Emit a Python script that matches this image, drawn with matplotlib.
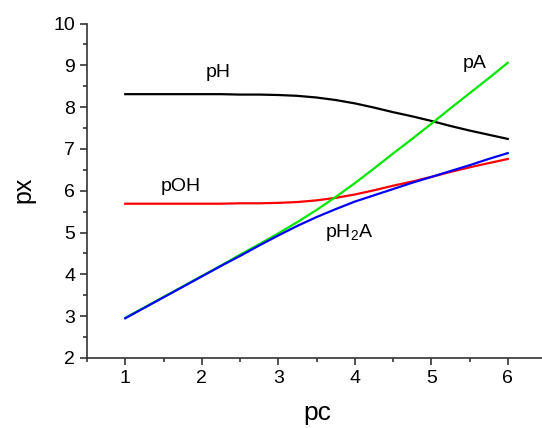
import numpy as np
import matplotlib.pyplot as plt
from matplotlib.ticker import MultipleLocator

plt.rcParams['font.family'] = ['Liberation Sans', 'DejaVu Sans']

# values
pc = [1.00, 1.25, 1.50, 1.75, 2.00, 2.25, 2.50, 2.75, 3.00, 3.25, 3.50,
      3.75, 4.00, 4.25, 4.50, 4.75, 5.00, 5.25, 5.50, 5.75, 6.00]
pH = [8.31, 8.31, 8.31, 8.31, 8.31, 8.31, 8.30, 8.30, 8.29, 8.27, 8.23,
      8.17, 8.09, 7.99, 7.88, 7.78, 7.67, 7.55, 7.44, 7.34, 7.24]
pOH = [5.69, 5.69, 5.69, 5.69, 5.69, 5.69, 5.70, 5.70, 5.71, 5.73, 5.77,
       5.83, 5.91, 6.01, 6.12, 6.22, 6.33, 6.45, 6.56, 6.66, 6.76]
pH2A = [2.95, 3.20, 3.45, 3.70, 3.95, 4.20, 4.44, 4.69, 4.93, 5.16, 5.37,
        5.56, 5.74, 5.89, 6.04, 6.19, 6.33, 6.47, 6.61, 6.76, 6.90]
pA = [2.96, 3.21, 3.46, 3.71, 3.96, 4.21, 4.47, 4.72, 4.98, 5.25, 5.54,
      5.85, 6.18, 6.53, 6.89, 7.24, 7.60, 7.97, 8.33, 8.69, 9.06]

fig = plt.figure(figsize=(5.42, 4.28), dpi=100)
ax = fig.add_axes([87/542, 70/428, 459/542, 334.5/428])

ax.plot(pc, pH, color='black', lw=1.6)
ax.plot(pc, pOH, color='#ff0000', lw=1.6)
ax.plot(pc, pA, color='#00e600', lw=1.6)
ax.plot(pc, pH2A, color='#0000ff', lw=1.6)

ax.text(2.21, 8.83, 'pH', fontsize=14, ha='center', va='center')
ax.text(1.73, 6.09, 'pOH', fontsize=14, ha='center', va='center')
ax.text(5.57, 9.04, 'pA', fontsize=14, ha='center', va='center')
ax.text(3.61, 4.90, 'pH$_\\mathregular{2}$A', fontsize=14, ha='left', va='baseline')

ax.set_xlim(0.5, 6.5)
ax.set_ylim(2, 10)
ax.xaxis.set_major_locator(MultipleLocator(1))
ax.xaxis.set_minor_locator(MultipleLocator(0.5))
ax.yaxis.set_major_locator(MultipleLocator(1))
ax.yaxis.set_minor_locator(MultipleLocator(0.5))
ax.set_xticks([1, 2, 3, 4, 5, 6])

for s in ['top', 'right']:
    ax.spines[s].set_visible(False)
for s in ['left', 'bottom']:
    ax.spines[s].set_linewidth(1.2)
    ax.spines[s].set_color('#333333')

ax.tick_params(which='both', direction='out', width=1.2, color='#333333', labelsize=14)
ax.tick_params(which='major', length=5)
ax.tick_params(which='minor', length=3)

ax.set_xlabel('pc', fontsize=19, va='baseline')
ax.set_ylabel('px', fontsize=18, va='center')
ax.xaxis.set_label_coords((317.5-87)/459, -(420-358)/334.5)
ax.yaxis.set_label_coords(-(87-23)/459, (358-190)/334.5)

fig.savefig('out.png', dpi=100)
